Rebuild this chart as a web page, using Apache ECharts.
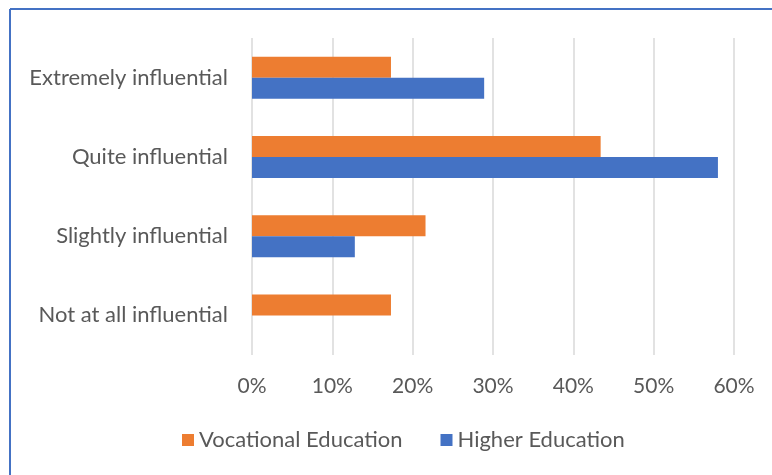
<!DOCTYPE html>
<html>
<head>
<meta charset="utf-8">
<script src="https://cdn.jsdelivr.net/npm/echarts@6/dist/echarts.min.js"></script>
<style>
  html, body { margin: 0; padding: 0; background: #fff; }
  #chart { width: 772px; height: 475px; }
</style>
</head>
<body>
<div id="chart"></div>
<script>
// categories, top to bottom
var categories = ['Extremely influential', 'Quite influential', 'Slightly influential', 'Not at all influential'];
// percentages
var vocational = [17.3, 43.4, 21.6, 17.3];
var higher = [28.9, 58.0, 12.8, 0];
var xTicks = [0, 10, 20, 30, 40, 50, 60];

var textColor = '#595959';
var font = 'Lato';

var chart = echarts.init(document.getElementById('chart'));

chart.setOption({
  animation: false,
  backgroundColor: '#fff',
  graphic: [
    // frame: only top and left edges show
    { type: 'line', shape: { x1: 10, y1: 9, x2: 772, y2: 9 }, style: { stroke: '#4472C4', lineWidth: 2 } },
    { type: 'line', shape: { x1: 10, y1: 9, x2: 10, y2: 475 }, style: { stroke: '#4472C4', lineWidth: 2 } }
  ],
  grid: { left: 252, right: 38, top: 38, bottom: 120, containLabel: false },
  legend: {
    top: 424,
    left: 177,
    icon: 'rect',
    itemWidth: 12,
    itemHeight: 12,
    itemGap: 38,
    textStyle: { color: textColor, fontSize: 22, fontFamily: font },
    data: ['Vocational Education', 'Higher Education']
  },
  xAxis: {
    type: 'value',
    min: xTicks[0],
    max: xTicks[xTicks.length - 1],
    interval: 10,
    axisLine: { show: false },
    axisTick: { show: false },
    splitLine: { lineStyle: { color: '#D9D9D9', width: 1.5 } },
    axisLabel: {
      color: textColor, fontSize: 21, fontFamily: font, margin: 21,
      formatter: function (v) { return v + '%'; }
    }
  },
  yAxis: {
    type: 'category',
    inverse: true,
    data: categories,
    axisLine: { show: false },
    axisTick: { show: false },
    axisLabel: { color: textColor, fontSize: 22, fontFamily: font, margin: 24 }
  },
  series: [
    {
      name: 'Vocational Education', type: 'bar', data: vocational,
      barWidth: 21, barGap: '0%',
      itemStyle: { color: '#ED7D31' }
    },
    {
      name: 'Higher Education', type: 'bar', data: higher,
      barWidth: 21, barGap: '0%',
      itemStyle: { color: '#4472C4' }
    }
  ]
});
</script>
</body>
</html>
